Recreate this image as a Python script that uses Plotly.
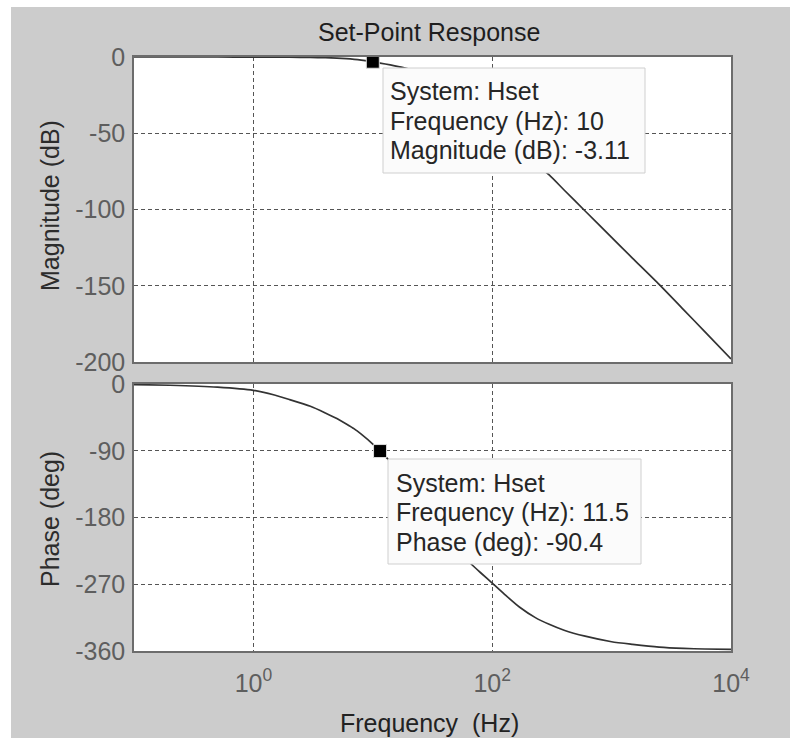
import plotly.graph_objects as go

# ---------------- data ----------------
freq_hz = [0.1, 0.2, 0.5, 1, 1.5, 2, 3, 4, 5, 6, 7, 8, 10, 11.5, 14, 18, 22, 28, 35,
           45, 55, 65, 80, 100, 130, 170, 230, 300, 400, 600, 1000, 1500, 2500,
           4000, 6000, 10000]
magnitude_db = [0.0, 0.0, -0.01, -0.03, -0.07, -0.12, -0.27, -0.48, -0.75, -1.1, -1.5,
                -2.0, -3.11, -4.0, -5.2, -7.0, -9.0, -12.4, -16.6, -21.9, -26.9, -31.2,
                -37.0, -43.3, -51.3, -59.8, -69.9, -77.3, -87.2, -101.0, -118.3, -132.0,
                -149.1, -165.6, -179.9, -198.0]
phase_deg = [-0.8, -1.7, -4.2, -8.5, -14.9, -20.9, -30.1, -39.0, -46.6, -53.9, -60.5,
             -67.7, -81.0, -90.4, -104.5, -125.0, -144.0, -169.0, -192.5, -215.5,
             -229.5, -241.0, -254.5, -268.4, -285.0, -301.0, -315.0, -324.0, -332.0,
             -340.0, -347.5, -351.0, -354.7, -356.5, -357.3, -357.8]

tip_mag_freq = [10]
tip_mag_val = [-3.11]
tip_phase_freq = [11.5]
tip_phase_val = [-90.4]

mag_ticks = [0, -50, -100, -150, -200]
mag_ticktext = ["0", "-50", "-100", "-150", "-200"]
phase_ticks = [0, -90, -180, -270, -360]
phase_ticktext = ["0", "-90", "-180", "-270", "-360"]
freq_ticks = [1, 100, 10000]
freq_ticktext = ["10<sup>0</sup>", "10<sup>2</sup>", "10<sup>4</sup>"]

title_text = "Set-Point Response"
mag_label = "Magnitude (dB)"
phase_label = "Phase (deg)"
freq_label = "Frequency\u00a0 (Hz)"
tip1_lines = ["System: Hset", "Frequency (Hz): 10", "Magnitude (dB): -3.11"]
tip2_lines = ["System: Hset", "Frequency (Hz): 11.5", "Phase (deg): -90.4"]

# ---------------- layout geometry ----------------
W, H = 793, 738
L, R, T, B = 134, 731, 57, 651


def px(x):
    return (x - L) / (R - L)


def py(y):
    return (B - y) / (B - T)


FONT = "Liberation Sans, Arial, Helvetica, sans-serif"
LINE_COL = "#333333"
GRID_COL = "#555555"
FRAME_COL = "#6c6c6c"
TICK_COL = "#5e5e5e"

fig = go.Figure()

fig.add_trace(go.Scatter(x=freq_hz, y=magnitude_db, mode="lines",
                         line=dict(color=LINE_COL, width=1.7, shape="spline", smoothing=0.6),
                         xaxis="x", yaxis="y", showlegend=False, hoverinfo="skip"))
fig.add_trace(go.Scatter(x=freq_hz, y=phase_deg, mode="lines",
                         line=dict(color=LINE_COL, width=1.7, shape="spline", smoothing=0.6),
                         xaxis="x2", yaxis="y2", showlegend=False, hoverinfo="skip"))
fig.add_trace(go.Scatter(x=tip_mag_freq, y=tip_mag_val, mode="markers", cliponaxis=False,
                         marker=dict(symbol="square", size=13, color="black",
                                     line=dict(color="#dddddd", width=1)),
                         xaxis="x", yaxis="y", showlegend=False, hoverinfo="skip"))
fig.add_trace(go.Scatter(x=tip_phase_freq, y=tip_phase_val, mode="markers", cliponaxis=False,
                         marker=dict(symbol="square", size=13, color="black",
                                     line=dict(color="#dddddd", width=1)),
                         xaxis="x2", yaxis="y2", showlegend=False, hoverinfo="skip"))

top_dom = [py(362), 1.0]
bot_dom = [0.0, py(384)]

xcommon = dict(type="log", range=[-1, 4], tickvals=freq_ticks, ticktext=freq_ticktext,
               showgrid=True, gridcolor=GRID_COL, griddash="4px,3px", gridwidth=1,
               showline=True, mirror=True, linecolor=FRAME_COL, linewidth=1.5,
               zeroline=False, ticks="", tickfont=dict(family=FONT, size=25, color=TICK_COL))
ycommon = dict(showgrid=True, gridcolor=GRID_COL, griddash="4px,3px", gridwidth=1,
               showline=True, mirror=True, linecolor=FRAME_COL, linewidth=1.5,
               zeroline=False, ticks="", ticklabelstandoff=2,
               tickfont=dict(family=FONT, size=25, color=TICK_COL))

shapes = [
    # white outer strips of the figure
    dict(type="rect", xref="paper", yref="paper", x0=px(0), x1=px(11), y0=py(H), y1=py(0),
         fillcolor="white", line=dict(width=0), layer="below"),
    dict(type="rect", xref="paper", yref="paper", x0=px(0), x1=px(W), y0=py(7), y1=py(0),
         fillcolor="white", line=dict(width=0), layer="below"),
    dict(type="rect", xref="paper", yref="paper", x0=px(790), x1=px(W), y0=py(H), y1=py(0),
         fillcolor="white", line=dict(width=0), layer="below"),
    # data tip boxes
    dict(type="rect", xref="paper", yref="paper", x0=px(383), x1=px(645), y0=py(173), y1=py(68),
         fillcolor="#fbfbfb", line=dict(color="#cfcfcf", width=1), layer="above"),
    dict(type="rect", xref="paper", yref="paper", x0=px(388), x1=px(641), y0=py(564), y1=py(459),
         fillcolor="#fbfbfb", line=dict(color="#cfcfcf", width=1), layer="above"),
]

annotations = []


def add_text(text, x, y, size=25, color="#222222", xanchor="center", angle=0):
    annotations.append(dict(text=text, xref="paper", yref="paper", x=px(x), y=py(y),
                            xanchor=xanchor, yanchor="middle", showarrow=False,
                            textangle=angle, font=dict(family=FONT, size=size, color=color)))


add_text(title_text, 429, 32, size=25, color="#1e1e1e")
add_text(mag_label, 50, 206, size=25, color="#2c2c2c", angle=-90)
add_text(phase_label, 50, 519, size=25, color="#2c2c2c", angle=-90)
add_text(freq_label, 429, 723, size=25, color="#222222")
for i, t in enumerate(tip1_lines):
    add_text(t, 388, [91, 121, 150][i], size=25, color="#262626", xanchor="left")
for i, t in enumerate(tip2_lines):
    add_text(t, 394, [483, 512, 542][i], size=25, color="#262626", xanchor="left")

fig.update_layout(
    width=W, height=H,
    margin=dict(l=L, r=W - R, t=T, b=H - B, pad=0),
    paper_bgcolor="#cccccc", plot_bgcolor="white",
    showlegend=False,
    xaxis=dict(**xcommon, domain=[0, 1], anchor="y", showticklabels=False),
    yaxis=dict(**ycommon, domain=top_dom, anchor="x", range=[-200, 0],
               tickvals=mag_ticks, ticktext=mag_ticktext),
    xaxis2=dict(**xcommon, domain=[0, 1], anchor="y2", matches="x", showticklabels=True,
                ticklabelstandoff=9),
    yaxis2=dict(**ycommon, domain=bot_dom, anchor="x2", range=[-360, 0],
                tickvals=phase_ticks, ticktext=phase_ticktext),
    shapes=shapes,
    annotations=annotations,
)

fig.write_html("out.html")
